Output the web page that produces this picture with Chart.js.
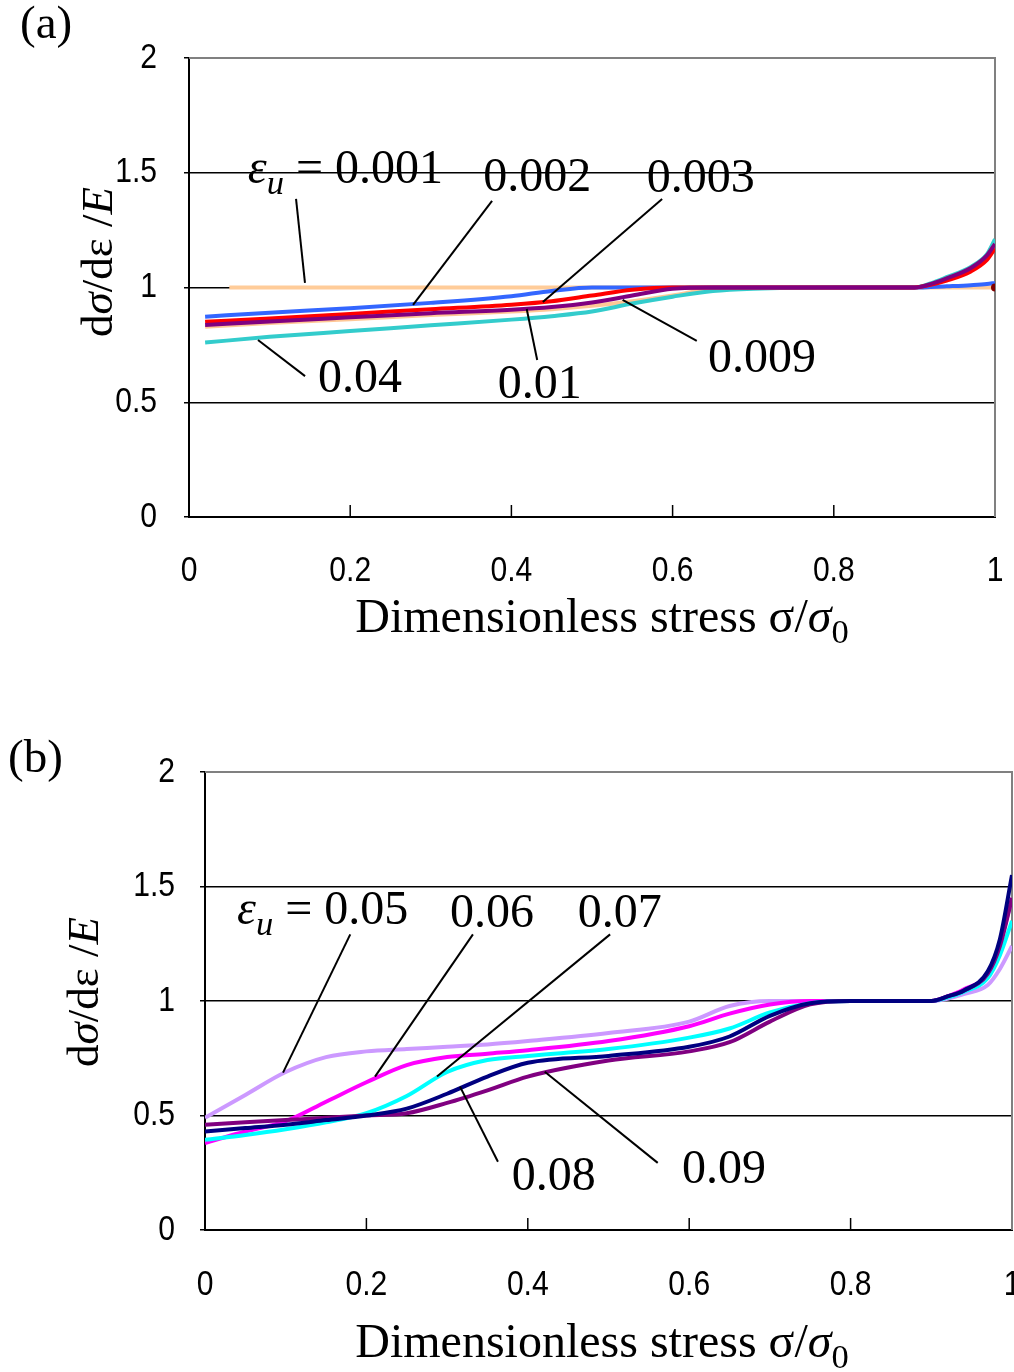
<!DOCTYPE html>
<html lang="en">
<head>
  <meta charset="UTF-8">
  <title>Tangent modulus vs dimensionless stress</title>
  <script src="https://cdn.jsdelivr.net/npm/chart.js"></script>
  <style>
    body { margin: 0; background: #fff; }
    .panel { position: absolute; left: 0; width: 1014px; }
    #wrapA { top: 0; height: 690px; }
    #wrapB { top: 690px; height: 682px; }
  </style>
</head>
<body>
  <div id="wrapA" class="panel"><canvas id="chartA"></canvas></div>
  <div id="wrapB" class="panel"><canvas id="chartB"></canvas></div>

  <script>
    // axis ticks (both panels)
    const xTicks = [0, 0.2, 0.4, 0.6, 0.8, 1];
    const yTicks = [0, 0.5, 1, 1.5, 2];

    // panel (a): sigma/sigma0 grid and d(sigma)/d(eps)/E per eps_u
    const stressA = [0.02, 0.1, 0.2, 0.3, 0.4, 0.45, 0.5, 0.55, 0.6, 0.65, 0.7, 0.8, 0.9, 0.92, 0.94, 0.97, 0.99, 1.0];
    const eps0001X = [0.05, 1.0];
    const eps0001Y = [1.0, 1.0];
    const eps0002 = [0.873, 0.89, 0.91, 0.933, 0.962, 0.985, 1.0, 1.0, 1.0, 1.0, 1.0, 1.0, 1.0, 1.002, 1.005, 1.01, 1.015, 1.02];
    const eps0003 = [0.851, 0.865, 0.885, 0.905, 0.925, 0.94, 0.965, 0.99, 1.0, 1.0, 1.0, 1.0, 1.0, 1.012, 1.03, 1.07, 1.12, 1.17];
    const eps0009 = [0.829, 0.845, 0.862, 0.88, 0.895, 0.905, 0.92, 0.94, 0.965, 0.995, 1.0, 1.0, 1.0, 1.015, 1.035, 1.08, 1.13, 1.19];
    const eps001 = [0.837, 0.852, 0.87, 0.888, 0.903, 0.915, 0.935, 0.965, 0.995, 1.0, 1.0, 1.0, 1.0, 1.015, 1.04, 1.085, 1.14, 1.19];
    const eps004 = [0.76, 0.785, 0.81, 0.835, 0.86, 0.875, 0.895, 0.93, 0.96, 0.985, 0.995, 1.0, 1.0, 1.018, 1.045, 1.09, 1.145, 1.21];
    const endPointA = [1.0, 1.0];

    // panel (b)
    const stressB = [0, 0.05, 0.1, 0.15, 0.2, 0.25, 0.3, 0.35, 0.4, 0.5, 0.6, 0.65, 0.7, 0.75, 0.8, 0.9, 0.92, 0.94, 0.97, 0.985, 1.0];
    const eps005 = [0.49, 0.59, 0.69, 0.755, 0.78, 0.79, 0.8, 0.81, 0.825, 0.86, 0.91, 0.978, 1.0, 1.0, 1.0, 1.0, 1.01, 1.03, 1.07, 1.14, 1.24];
    const eps006 = [0.38, 0.43, 0.475, 0.56, 0.645, 0.72, 0.755, 0.77, 0.785, 0.825, 0.89, 0.945, 0.985, 1.0, 1.0, 1.0, 1.02, 1.05, 1.12, 1.25, 1.45];
    const eps007 = [0.394, 0.415, 0.44, 0.47, 0.51, 0.585, 0.69, 0.742, 0.76, 0.79, 0.84, 0.88, 0.95, 0.99, 1.0, 1.0, 1.015, 1.04, 1.1, 1.2, 1.35];
    const eps008 = [0.43, 0.445, 0.46, 0.48, 0.5, 0.53, 0.595, 0.67, 0.73, 0.76, 0.8, 0.845, 0.935, 0.99, 1.0, 1.0, 1.02, 1.045, 1.13, 1.27, 1.55];
    const eps009 = [0.46, 0.47, 0.48, 0.49, 0.5, 0.51, 0.555, 0.61, 0.67, 0.74, 0.78, 0.82, 0.91, 0.985, 1.0, 1.0, 1.02, 1.045, 1.12, 1.24, 1.45];

    const SERIF = "'Liberation Serif', 'Times New Roman', serif";
    const SANS = "'Liberation Sans', Arial, sans-serif";

    const pts = (xs, ys) => xs.map((v, i) => ({ x: v, y: ys[i] }));

    function line(label, xs, ys, color, order) {
      return {
        label, data: pts(xs, ys), borderColor: color, borderWidth: 4,
        pointRadius: 0, cubicInterpolationMode: 'monotone', order
      };
    }

    // draw a run of text pieces (italic / subscript) starting at x, baseline y
    function drawRuns(ctx, runs, x, y, size) {
      ctx.textBaseline = 'alphabetic';
      ctx.textAlign = 'left';
      let cx = x;
      runs.forEach(r => {
        const s = r.sub ? size * 0.72 : size;
        ctx.font = (r.i ? 'italic ' : '') + s + 'px ' + SERIF;
        ctx.fillText(r.t, cx, y + (r.sub ? size * 0.22 : 0));
        cx += ctx.measureText(r.t).width;
      });
      return cx - x;
    }
    function runsWidth(ctx, runs, size) {
      let w = 0;
      runs.forEach(r => {
        const s = r.sub ? size * 0.72 : size;
        ctx.font = (r.i ? 'italic ' : '') + s + 'px ' + SERIF;
        w += ctx.measureText(r.t).width;
      });
      return w;
    }
    // narrow sans tick label
    function tickText(ctx, t, x, y, align) {
      ctx.save();
      ctx.translate(x, y);
      ctx.scale(0.86, 1);
      ctx.font = '35px ' + SANS;
      ctx.textAlign = align;
      ctx.textBaseline = 'middle';
      ctx.fillText(t, 0, 0);
      ctx.restore();
    }

    const xTitleRuns = [{ t: 'Dimensionless stress \u03c3/' }, { t: '\u03c3', i: true }, { t: '0', sub: true }];
    const yTitleRuns = [{ t: 'd' }, { t: '\u03c3', i: true }, { t: '/d\u03b5 /' }, { t: 'E', i: true }];

    const panelText = {
      id: 'panelText',
      beforeDatasetsDraw(chart) {
        const { ctx, chartArea: a, scales: { x } } = chart;
        ctx.save();
        ctx.strokeStyle = '#808080';
        ctx.lineWidth = 2;
        ctx.beginPath();
        ctx.moveTo(a.left, a.top); ctx.lineTo(a.right, a.top); ctx.lineTo(a.right, a.bottom);
        ctx.stroke();
        ctx.strokeStyle = '#000';
        ctx.lineWidth = 1.5;
        xTicks.slice(1, -1).forEach(v => {
          const px = x.getPixelForValue(v);
          ctx.beginPath(); ctx.moveTo(px, a.bottom); ctx.lineTo(px, a.bottom - 12); ctx.stroke();
        });
        ctx.restore();
      },
      afterDraw(chart, args, o) {
        const { ctx, chartArea: a, scales: { x, y } } = chart;
        ctx.save();
        ctx.fillStyle = '#000';
        ctx.strokeStyle = '#000';
        ctx.lineWidth = 2;
        // tick labels
        yTicks.forEach(v => tickText(ctx, String(v), a.left - o.yLabelGap, y.getPixelForValue(v), 'right'));
        xTicks.forEach(v => tickText(ctx, String(v), x.getPixelForValue(v), a.bottom + o.xLabelGap, 'center'));
        // leader lines and labels
        o.leaders.forEach(l => {
          ctx.beginPath();
          ctx.moveTo(x.getPixelForValue(l[0]), y.getPixelForValue(l[1]));
          ctx.lineTo(x.getPixelForValue(l[2]), y.getPixelForValue(l[3]));
          ctx.stroke();
        });
        o.notes.forEach(n => drawRuns(ctx, n.runs, x.getPixelForValue(n.x), y.getPixelForValue(n.y), 48));
        // panel label
        drawRuns(ctx, [{ t: o.label }], o.labelPos[0], o.labelPos[1], 47);
        // x title
        const w = runsWidth(ctx, xTitleRuns, 48);
        drawRuns(ctx, xTitleRuns, o.xTitle[0] - w / 2, o.xTitle[1], 48);
        // y title, rotated
        const wy = runsWidth(ctx, yTitleRuns, 45);
        ctx.translate(o.yTitle[0], o.yTitle[1]);
        ctx.rotate(-Math.PI / 2);
        drawRuns(ctx, yTitleRuns, -wy / 2, 14, 45);
        ctx.restore();
      }
    };

    function makeChart(id, datasets, plotTop, plotRight, yAxisW, xAxisH, text) {
      return new Chart(document.getElementById(id), {
        type: 'line',
        data: { datasets },
        plugins: [panelText],
        options: {
          responsive: true,
          maintainAspectRatio: false,
          animation: false,
          layout: { padding: { top: plotTop, right: plotRight, left: 0, bottom: 0 } },
          plugins: { legend: { display: false }, tooltip: { enabled: false }, panelText: text },
          scales: {
            x: {
              type: 'linear', min: 0, max: 1,
              afterBuildTicks: s => { s.ticks = xTicks.map(v => ({ value: v })); },
              afterFit: s => { s.height = xAxisH; s.paddingLeft = 0; s.paddingRight = 0; },
              grid: { display: true, drawOnChartArea: false, drawTicks: false },
              border: { display: true, color: '#000', width: 2 },
              ticks: { display: false }
            },
            y: {
              type: 'linear', min: 0, max: 2,
              afterBuildTicks: s => { s.ticks = yTicks.map(v => ({ value: v })); },
              afterFit: s => { s.width = yAxisW; s.paddingTop = 0; s.paddingBottom = 0; },
              grid: {
                color: c => (c.tick && (c.tick.value === 2 || c.tick.value === 0)) ? 'rgba(0,0,0,0)' : '#000',
                tickColor: '#000', tickLength: 5, lineWidth: 1.5
              },
              border: { display: true, color: '#000', width: 2 },
              ticks: { display: false }
            }
          }
        }
      });
    }

    const epsRuns = v => [{ t: '\u03b5', i: true }, { t: 'u', i: true, sub: true }, { t: ' = ' + v }];

    makeChart('chartA', [
      line('0.001', eps0001X, eps0001Y, '#FFCC99', 6),
      line('0.009', stressA, eps0009, '#FFC896', 5),
      line('0.04', stressA, eps004, '#33CCCC', 4),
      line('0.002', stressA, eps0002, '#3366FF', 3),
      line('0.003', stressA, eps0003, '#FF0000', 2),
      line('0.01', stressA, eps001, '#800080', 1),
      { label: 'end', data: [{ x: endPointA[0], y: endPointA[1] }], showLine: false,
        pointRadius: 4, pointBackgroundColor: '#800000', pointBorderWidth: 0, order: 0 }
    ], 58, 19, 189, 173, {
      label: '(a)', labelPos: [20, 38], xTitle: [602, 632], yTitle: [98, 262],
      yLabelGap: 32, xLabelGap: 54,
      notes: [
        { runs: epsRuns('0.001'), x: 0.073, y: 1.455 },
        { runs: [{ t: '0.002' }], x: 0.365, y: 1.42 },
        { runs: [{ t: '0.003' }], x: 0.568, y: 1.416 },
        { runs: [{ t: '0.009' }], x: 0.644, y: 0.632 },
        { runs: [{ t: '0.01' }], x: 0.383, y: 0.519 },
        { runs: [{ t: '0.04' }], x: 0.16, y: 0.545 }
      ],
      leaders: [
        [0.1328, 1.386, 0.1439, 1.02],
        [0.376, 1.377, 0.278, 0.924],
        [0.587, 1.386, 0.439, 0.937],
        [0.63, 0.767, 0.538, 0.946],
        [0.432, 0.684, 0.419, 0.906],
        [0.144, 0.614, 0.0856, 0.771]
      ]
    });

    makeChart('chartB', [
      line('0.05', stressB, eps005, '#CC99FF', 5),
      line('0.06', stressB, eps006, '#FF00FF', 4),
      line('0.07', stressB, eps007, '#00FFFF', 3),
      line('0.09', stressB, eps009, '#800080', 2),
      line('0.08', stressB, eps008, '#000080', 1)
    ], 82, 2, 205, 142, {
      label: '(b)', labelPos: [8, 82], xTitle: [602, 667], yTitle: [84, 302],
      yLabelGap: 30, xLabelGap: 55,
      notes: [
        { runs: epsRuns('0.05'), x: 0.0397, y: 1.335 },
        { runs: [{ t: '0.06' }], x: 0.3036, y: 1.322 },
        { runs: [{ t: '0.07' }], x: 0.462, y: 1.322 },
        { runs: [{ t: '0.08' }], x: 0.38, y: 0.175 },
        { runs: [{ t: '0.09' }], x: 0.591, y: 0.206 }
      ],
      leaders: [
        [0.18, 1.291, 0.0967, 0.687],
        [0.332, 1.291, 0.2107, 0.67],
        [0.502, 1.291, 0.2875, 0.67],
        [0.363, 0.298, 0.316, 0.626],
        [0.561, 0.293, 0.421, 0.691]
      ]
    });
  </script>
</body>
</html>
